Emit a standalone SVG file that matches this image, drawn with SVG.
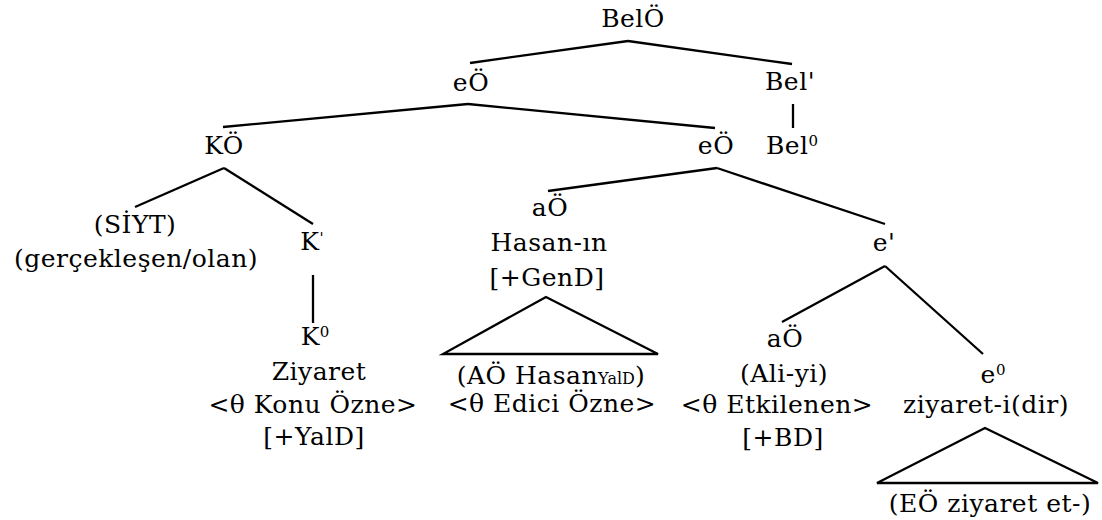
<svg xmlns="http://www.w3.org/2000/svg" width="1102" height="520" viewBox="0 0 1102 520">
<style>
text{font-family:"DejaVu Serif","Liberation Serif",serif;font-size:25px;letter-spacing:0.5px;fill:#000;text-anchor:middle}
.sup{font-size:15px;letter-spacing:0}
.sub{font-size:16px;letter-spacing:0}
.edge{stroke:#000;stroke-width:2.3;fill:none;stroke-linecap:butt}
</style>
<rect width="1102" height="520" fill="#fff"/>
<g id="connectors">
<line class="edge" x1="628" y1="41" x2="470" y2="63"/>
<line class="edge" x1="628" y1="41" x2="792" y2="64"/>
<line class="edge" x1="793" y1="104" x2="793" y2="128"/>
<line class="edge" x1="468" y1="104" x2="223" y2="127"/>
<line class="edge" x1="468" y1="104" x2="715" y2="128"/>
<line class="edge" x1="224" y1="168" x2="135" y2="207"/>
<line class="edge" x1="224" y1="168" x2="313" y2="224"/>
<line class="edge" x1="717" y1="168" x2="548" y2="191"/>
<line class="edge" x1="717" y1="168" x2="885" y2="224"/>
<line class="edge" x1="313" y1="275" x2="313" y2="323"/>
<polygon class="edge" points="546,297 443,354 658,354"/>
<line class="edge" x1="885" y1="266" x2="782" y2="322"/>
<line class="edge" x1="885" y1="266" x2="983" y2="354"/>
<polygon class="edge" points="985,428 877,483 1098,483"/>
</g>
<g id="n-belO"><text x="633" y="27">BelÖ</text></g>
<g id="n-eO1"><text x="471" y="91">eÖ</text></g>
<g id="n-belbar"><text x="790" y="90">Bel'</text></g>
<g id="n-bel0"><text x="792" y="154">Bel<tspan class="sup" dy="-8">0</tspan></text></g>
<g id="n-KO"><text x="224" y="154">KÖ</text></g>
<g id="n-eO2"><text x="716" y="154">eÖ</text></g>
<g id="n-siyt"><text x="135" y="233">(SİYT)</text><text x="136" y="267">(gerçekleşen/olan)</text></g>
<g id="n-Kbar"><text x="312" y="250">K<tspan class="sup" dy="-7">'</tspan></text></g>
<g id="n-K0"><text x="315" y="345">K<tspan class="sup" dy="-8">0</tspan></text><text x="319" y="380">Ziyaret</text><text x="313" y="413">&lt;θ Konu Özne&gt;</text><text x="314" y="445">[+YalD]</text></g>
<g id="n-aO1"><text x="550" y="216">aÖ</text><text x="549" y="251">Hasan-ın</text><text x="547" y="286">[+GenD]</text></g>
<g id="n-AO"><text x="551" y="384">(AÖ Hasan<tspan class="sub">YalD</tspan>)</text><text x="552" y="412">&lt;θ Edici Özne&gt;</text></g>
<g id="n-ebar"><text x="884" y="251">e'</text></g>
<g id="n-aO2"><text x="785" y="347">aÖ</text><text x="784" y="382">(Ali-yi)</text><text x="777" y="413">&lt;θ Etkilenen&gt;</text><text x="783" y="446">[+BD]</text></g>
<g id="n-e0"><text x="993" y="383">e<tspan class="sup" dy="-8">0</tspan></text><text x="986" y="413">ziyaret-i(dir)</text></g>
<g id="n-EO"><text x="990" y="512">(EÖ ziyaret et-)</text></g>
</svg>
